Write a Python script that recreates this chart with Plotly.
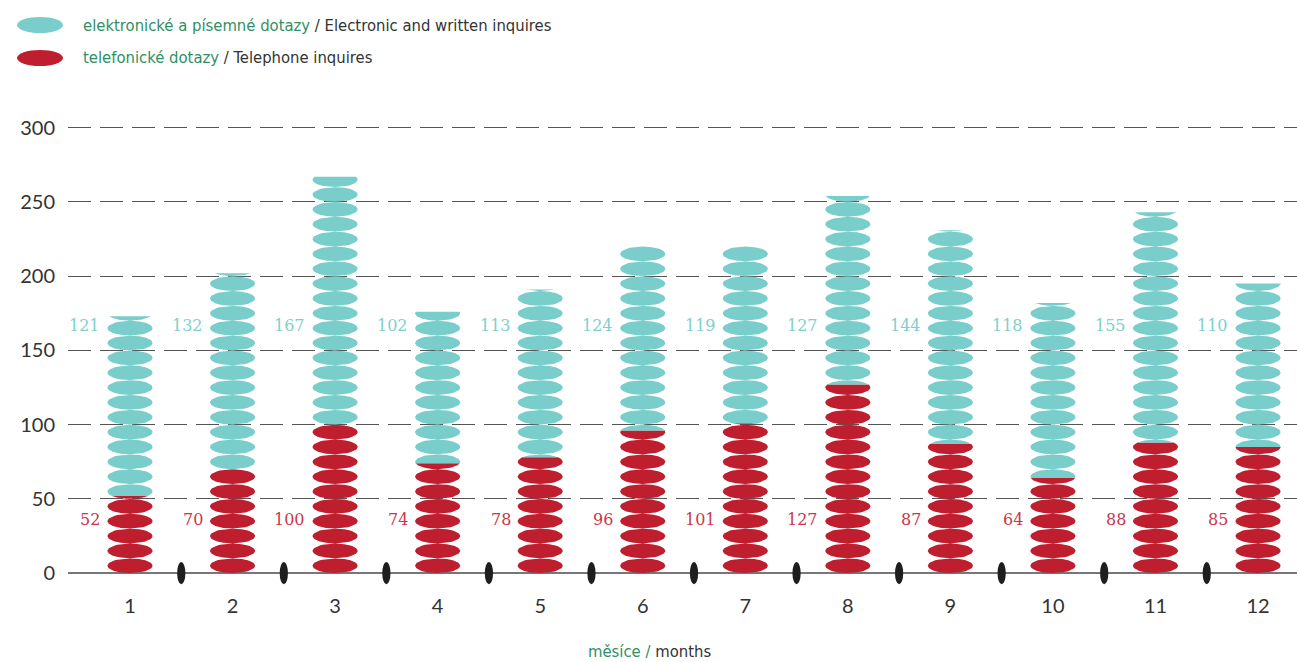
import numpy as np
import plotly.graph_objects as go

# Monthly inquiry counts
months = [1, 2, 3, 4, 5, 6, 7, 8, 9, 10, 11, 12]
month_labels = ["1", "2", "3", "4", "5", "6", "7", "8", "9", "10", "11", "12"]
telephone = [52, 70, 100, 74, 78, 96, 101, 127, 87, 64, 88, 85]
electronic = [121, 132, 167, 102, 113, 124, 119, 127, 144, 118, 155, 110]
y_ticks = [0, 50, 100, 150, 200, 250, 300]

TEAL = "#79cdca"
RED = "#be1e2d"
TEAL_TXT = "#7fcfcb"
RED_TXT = "#c9374a"
GREEN = "#2f8f64"
GRAY_TXT = "#333333"

SLOT = 10.0        # one token per 10 inquiries
HALF_W = 0.22      # token half width (x units)
HALF_H = 4.95      # token half height (y units)


def token_polygon(xc, yc, lo, hi, n=24):
    """Ellipse centred at (xc, yc), clipped vertically to [lo, hi]."""
    ys = np.linspace(lo, hi, n)
    t = np.clip((ys - yc) / HALF_H, -1, 1)
    dx = HALF_W * np.sqrt(1 - t ** 2)
    xs = np.concatenate([xc + dx, (xc - dx)[::-1]])
    yy = np.concatenate([ys, ys[::-1]])
    return list(xs) + [xs[0]], list(yy) + [yy[0]]


def stack_tokens(x, lo, hi):
    px, py = [], []
    k = int(np.floor(lo / SLOT))
    while k * SLOT < hi:
        c = k * SLOT + SLOT / 2
        a = max(lo, c - HALF_H)
        b = min(hi, c + HALF_H)
        if b > a + 0.05:
            xs, ys = token_polygon(x, c, a, b)
            px += xs + [None]
            py += ys + [None]
        k += 1
    return px, py


red_x, red_y, teal_x, teal_y = [], [], [], []
for m, r, e in zip(months, telephone, electronic):
    xs, ys = stack_tokens(m, 0, r)
    red_x += xs
    red_y += ys
    xs, ys = stack_tokens(m, r, r + e)
    teal_x += xs
    teal_y += ys

fig = go.Figure()
fig.add_trace(go.Scatter(x=red_x, y=red_y, mode="lines", fill="toself",
                         fillcolor=RED, line=dict(width=0, color=RED),
                         hoverinfo="skip", showlegend=False))
fig.add_trace(go.Scatter(x=teal_x, y=teal_y, mode="lines", fill="toself",
                         fillcolor=TEAL, line=dict(width=0, color=TEAL),
                         hoverinfo="skip", showlegend=False))

# value labels left of each column
val_font = "DejaVu Serif"
for m, r, e in zip(months, telephone, electronic):
    fig.add_annotation(x=m - 0.27, y=167, text=str(e), showarrow=False,
                       xanchor="right", yanchor="middle",
                       font=dict(family=val_font, size=16, color=TEAL_TXT))
    fig.add_annotation(x=m - 0.27, y=36, text=str(r), showarrow=False,
                       xanchor="right", yanchor="middle",
                       font=dict(family=val_font, size=16, color=RED_TXT))

# separators between months on the baseline
for m in months[:-1]:
    fig.add_shape(type="circle", xref="x", yref="y",
                  x0=m + 0.5 - 0.04, x1=m + 0.5 + 0.04, y0=-7.5, y1=7.5,
                  fillcolor="#1e1e1e", line=dict(width=0), layer="above")

# legend
cond = "DejaVu Sans Condensed, sans-serif"
legend_rows = [
    (TEAL, "elektronické a písemné dotazy", "Electronic and written inquires", 25),
    (RED, "telefonické dotazy", "Telephone inquires", 58),
]
for color, cz, en, yc in legend_rows:
    fig.add_shape(type="circle", xref="paper", yref="paper",
                  x0=(17 - 68) / 1229, x1=(63 - 68) / 1229,
                  y0=(662 - 74 - (yc + 8)) / 490, y1=(662 - 74 - (yc - 8)) / 490,
                  fillcolor=color, line=dict(width=0))
    fig.add_annotation(xref="paper", yref="paper",
                       x=(81 - 68) / 1229, y=(662 - 74 - yc) / 490,
                       xanchor="left", yanchor="middle", showarrow=False,
                       text=f"<span style='color:{GREEN}'>{cz}</span> / {en}",
                       font=dict(family=cond, size=16.5, color=GRAY_TXT))

# axis title
fig.add_annotation(xref="paper", yref="paper", x=(649 - 68) / 1229,
                   y=(662 - 74 - 651) / 490, xanchor="center", yanchor="middle",
                   showarrow=False,
                   text=f"<span style='color:{GREEN}'>měsíce /</span> months",
                   font=dict(family=cond, size=16.5, color=GRAY_TXT))

fig.update_layout(
    width=1297, height=662,
    margin=dict(l=68, r=0, t=98, b=74),
    plot_bgcolor="white", paper_bgcolor="white",
    showlegend=False,
    xaxis=dict(range=[0.3954, 12.38], tickvals=months, ticktext=month_labels,
               showgrid=False, zeroline=False, showline=False, ticks="",
               ticklabelstandoff=4,
               tickfont=dict(family="Lato, Roboto, sans-serif", size=20,
                             color=GRAY_TXT)),
    yaxis=dict(range=[-10, 320], tickvals=y_ticks,
               showgrid=True, gridcolor="#555555", gridwidth=1.3,
               griddash="23px,9px",
               zeroline=True, zerolinecolor="#777777", zerolinewidth=1.5,
               showline=False, ticks="", ticklabelstandoff=12,
               tickfont=dict(family="Lato, Roboto, sans-serif", size=20,
                             color=GRAY_TXT)),
)

fig.write_html("out.html")
